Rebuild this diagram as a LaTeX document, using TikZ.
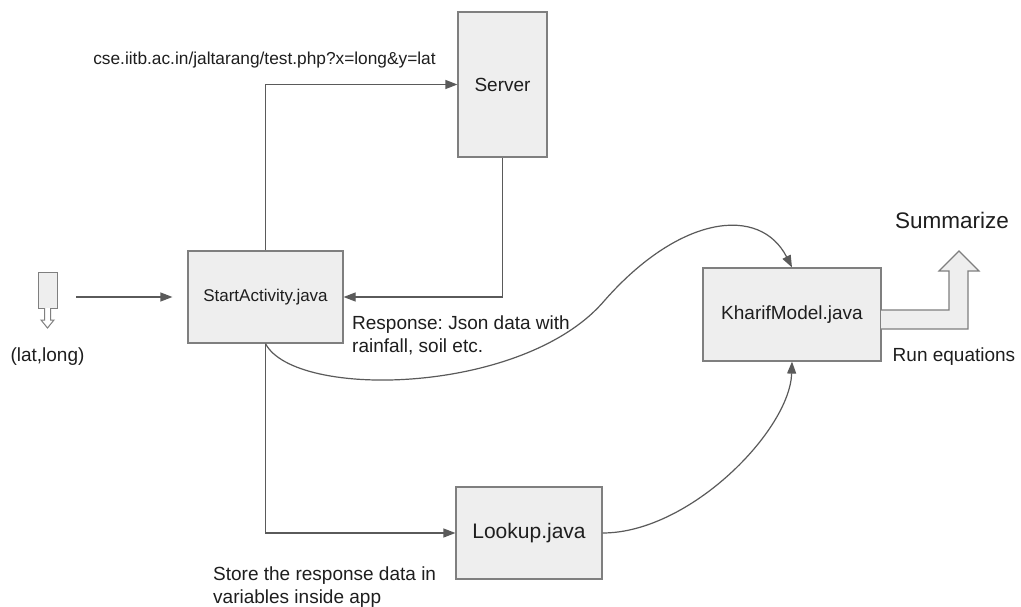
\documentclass[tikz,border=0pt]{standalone}
\usepackage{fontspec}
\setmainfont{Liberation Sans}
\usetikzlibrary{arrows.meta}
\definecolor{boxfill}{HTML}{EEEEEE}
\definecolor{boxline}{HTML}{7F7F7F}
\definecolor{connc}{HTML}{5A5A5A}
\definecolor{txt}{HTML}{1E1E1E}
\frenchspacing
\begin{document}
\begin{tikzpicture}[x=1pt,y=-1pt,
  box/.style={draw=boxline,fill=boxfill,line width=1.2pt,inner sep=0pt,text=txt},
  conn/.style={draw=connc,line width=1.2pt,-{Triangle[length=12pt,width=9pt]}},
  lbl/.style={text=txt,inner sep=0pt},
  fnineteen/.style={font=\fontsize{19}{23}\selectfont}
]
\useasboundingbox (0,0) rectangle (1021,607);
\fill[white] (0,0) rectangle (1021,607);

% boxes
\node[box,minimum width=89pt,minimum height=145pt,fnineteen] (server) at (502.5,84.5) {Server};
\node[box,minimum width=155pt,minimum height=92pt,font=\fontsize{17}{20}\selectfont] (start) at (265.5,297) {StartActivity.java};
\node[box,minimum width=178pt,minimum height=93pt,fnineteen] (kharif) at (792,314.5) {KharifModel.java};
\node[box,minimum width=146pt,minimum height=92pt,font=\fontsize{21}{25}\selectfont] (lookup) at (529,533) {Lookup.java};
\node[box,line width=1pt,minimum width=19pt,minimum height=36pt] (pin) at (47.5,290) {};

% hollow arrow under the pin
\draw[draw=boxline,fill=white,line width=1pt] (44.5,308) -- (44.5,320) -- (41,320) -- (47.5,328) -- (54,320) -- (50.5,320) -- (50.5,308);

% connectors
\coordinate (pinout) at (76,297);
\draw[conn] (pinout) -- ([xshift=-15pt]start.west);
\draw[conn] (start.north) |- (server.west);
\draw[conn] (server.south) |- (start.east);
\draw[conn] (start.south) |- (lookup.west);
\draw[conn] (start.south) .. controls (295,400) and (525,395) .. (605,300) .. controls (680,215) and (760,205) .. (kharif.north);
\draw[conn] (lookup.east) .. controls (690,533) and (790,430) .. (kharif.south);

% fat arrow
\draw[draw=boxline,fill=boxfill,line width=1.2pt] (881,310) -- (949,310) -- (949,271) -- (939,271) -- (959,251) -- (979,271) -- (968,271) -- (968,329) -- (881,329);

% labels
\node[lbl,font=\fontsize{17.3}{20}\selectfont,anchor=base] (url) at (264.5,65) {cse.iitb.ac.in/jaltarang/test.php?x=long\&y=lat};
\node[lbl,fnineteen,anchor=base west,align=left] (resp) at (352,352) {Response: Json data with\\rainfall, soil etc.};
\node[lbl,fnineteen,anchor=base west,align=left] (store) at (213,603) {Store the response data in\\variables inside app};
\node[lbl,fnineteen,anchor=base] (latlong) at (47.5,361) {(lat,long)};
\node[lbl,font=\fontsize{22.5}{27}\selectfont,anchor=base] (summ) at (952,229) {Summarize};
\node[lbl,fnineteen,anchor=base] (run) at (954,361) {Run equations};
\end{tikzpicture}
\end{document}
